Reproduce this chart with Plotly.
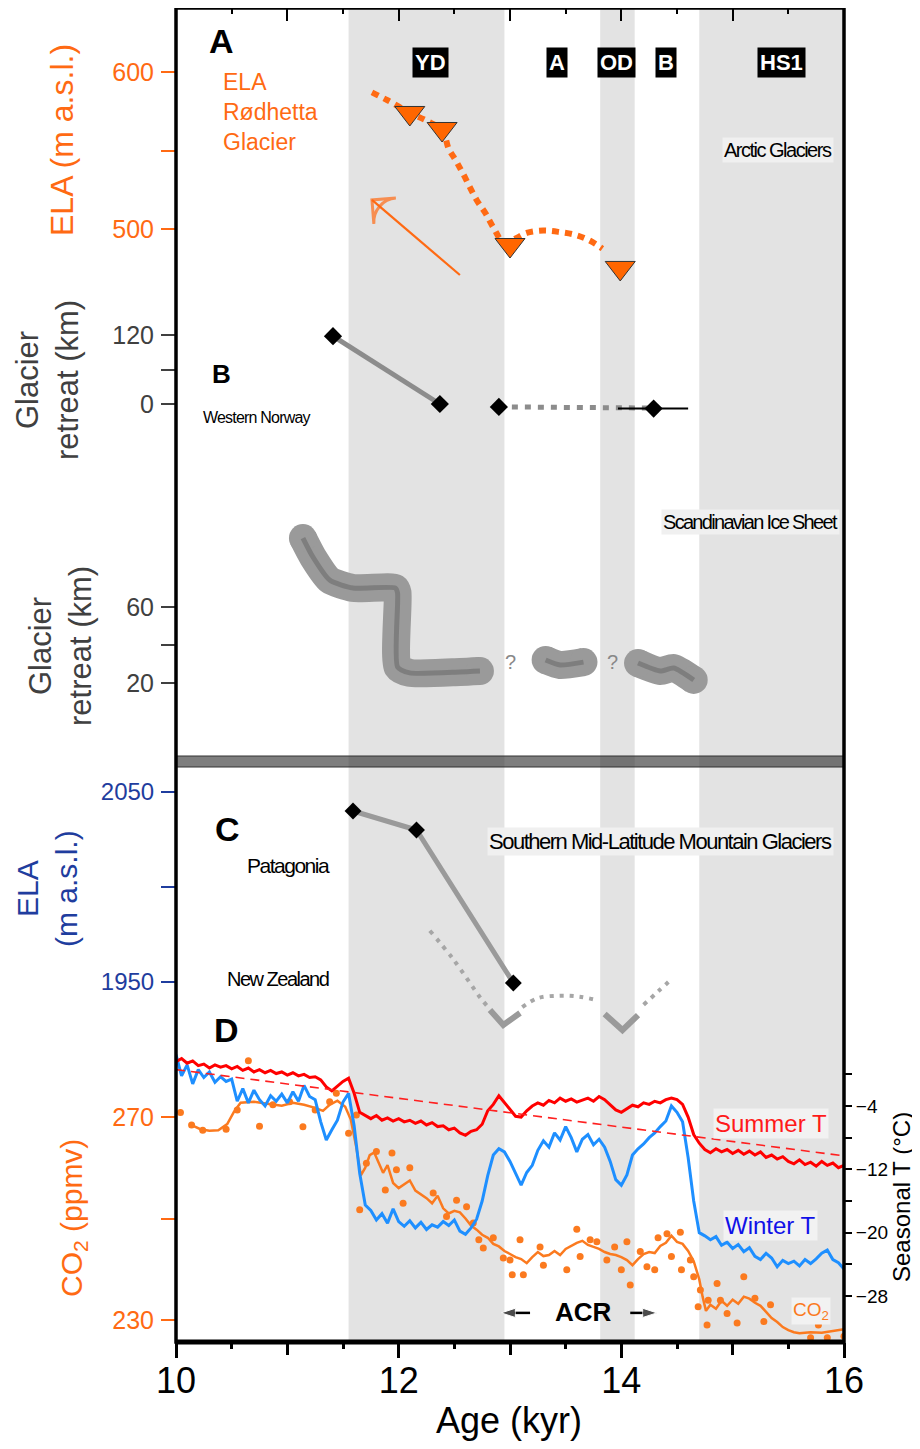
import plotly.graph_objects as go

# ------------------------------------------------------------------ data
# climate periods (kyr)
BANDS = [(11.55, 12.95), (13.81, 14.12), (14.70, 16.0)]
PERIOD_LABELS = ["YD", "A", "OD", "B", "HS1"]
PERIOD_LABEL_AGE = [12.29, 13.42, 13.96, 14.40, 15.44]

# A: ELA Rødhetta Glacier (m a.s.l.)
ELA_TRI_AGE = [12.10, 12.39, 13.00, 13.99]
ELA_TRI_VAL = [573.9, 563.7, 489.8, 475.2]
ELA_LINE_AGE = [11.76, 11.90, 12.10, 12.25, 12.39, 12.45, 12.51, 12.58, 12.70, 12.78,
                12.85, 12.95, 13.05, 13.15, 13.30, 13.45, 13.60, 13.72, 13.83]
ELA_LINE_VAL = [587, 582, 574, 569, 563, 551, 544, 535, 518.5, 510,
                501, 491, 494, 497.5, 499, 498, 496, 492.5, 487.5]
ELA_ARROW_AGE = [12.55, 11.76]
ELA_ARROW_VAL = [470.7, 518.5]

# B: Western Norway glacier retreat (km)
WN_SOLID_AGE = [11.41, 12.37]
WN_SOLID_VAL = [118, 0]
WN_DOT_AGE = [12.90, 14.25]
WN_DOT_VAL = [-5, -7]
WN_PT_AGE = [11.41, 12.37, 12.90, 14.29]
WN_PT_VAL = [118, 0, -5, -8]
WN_ERR_AGE = [13.97, 14.60]
WN_ERR_VAL = [-8, -8]

# Scandinavian Ice Sheet retreat (km) – three segments
SIS1_AGE = [11.14, 11.23, 11.38, 11.59, 11.97, 11.99, 11.99, 12.10, 12.55, 12.73]
SIS1_VAL = [96.3, 86.3, 74.2, 70.0, 70.0, 67.4, 28.4, 25.3, 25.8, 26.3]
SIS2_AGE = [13.32, 13.45, 13.66]
SIS2_VAL = [32.1, 29.5, 31.0]
SIS3_AGE = [14.15, 14.35, 14.47, 14.65]
SIS3_VAL = [30.5, 26.3, 27.9, 21.6]

# C: Southern mid-latitude ELA (m a.s.l.)
PAT_AGE = [11.59, 12.16, 13.03]
PAT_VAL = [2040, 2030, 1949.5]
NZ_LEFT_AGE = [12.28, 12.49, 12.73, 12.80]
NZ_LEFT_VAL = [1977, 1962, 1942, 1937]
NZ_V1_AGE = [12.82, 12.94, 13.09]
NZ_V1_VAL = [1935.3, 1927.4, 1933.7]
NZ_ARC_AGE = [13.11, 13.25, 13.45, 13.62, 13.78]
NZ_ARC_VAL = [1936.8, 1941.5, 1942.8, 1942.3, 1940.5]
NZ_V2_AGE = [13.85, 14.01, 14.15]
NZ_V2_VAL = [1933.2, 1924.7, 1932.6]
NZ_RIGHT_AGE = [14.20, 14.33, 14.46]
NZ_RIGHT_VAL = [1938, 1945, 1952]

# D: seasonal temperatures (°C)
T_AGE = [10.00, 10.05, 10.10, 10.15, 10.20, 10.25, 10.30, 10.35, 10.40, 10.45,
         10.50, 10.55, 10.60, 10.65, 10.70, 10.75, 10.80, 10.85, 10.90, 10.95,
         11.00, 11.05, 11.10, 11.15, 11.20, 11.25, 11.30, 11.35, 11.40, 11.45,
         11.50, 11.55, 11.60, 11.65, 11.70, 11.75, 11.80, 11.85, 11.90, 11.95,
         12.00, 12.05, 12.10, 12.15, 12.20, 12.25, 12.30, 12.35, 12.40, 12.45,
         12.50, 12.55, 12.60, 12.65, 12.70, 12.75, 12.80, 12.85, 12.90, 12.95,
         13.00, 13.05, 13.10, 13.15, 13.20, 13.25, 13.30, 13.35, 13.40, 13.45,
         13.50, 13.55, 13.60, 13.65, 13.70, 13.75, 13.80, 13.85, 13.90, 13.95,
         14.00, 14.05, 14.10, 14.15, 14.20, 14.25, 14.30, 14.35, 14.40, 14.45,
         14.50, 14.55, 14.60, 14.65, 14.70, 14.75, 14.80, 14.85, 14.90, 14.95,
         15.00, 15.05, 15.10, 15.15, 15.20, 15.25, 15.30, 15.35, 15.40, 15.45,
         15.50, 15.55, 15.60, 15.65, 15.70, 15.75, 15.80, 15.85, 15.90, 15.95,
         16.00]
SUMMER_T = [1.6, 2.0, 1.4, 1.7, 1.1, 1.3, 0.8, 1.2, 0.9, 1.1,
            0.7, 1.0, 0.5, 0.8, 0.3, 0.6, 0.2, 0.5, 0.1, 0.3,
            -0.1, 0.2, -0.2, 0.0, -0.4, -0.3, -0.7, -1.6, -2.1, -1.5,
            -0.9, -0.5, -2.4, -4.8, -5.2, -5.6, -5.2, -5.8, -5.5, -5.9,
            -5.6, -6.0, -5.8, -6.2, -5.9, -6.4, -6.1, -6.6, -6.5, -7.0,
            -6.8, -7.4, -7.7, -7.2, -7.0, -6.3, -4.6, -3.8, -2.7, -3.6,
            -4.4, -5.3, -5.4, -4.6, -4.0, -3.6, -3.9, -3.3, -3.6, -3.0,
            -3.4, -3.1, -3.5, -3.2, -3.0, -3.4, -2.8, -3.2, -3.8, -4.5,
            -4.8, -4.3, -3.9, -4.1, -3.6, -3.8, -3.4, -3.6, -3.2, -3.0,
            -3.2, -3.8, -5.4, -7.6, -8.7, -9.5, -9.9, -9.4, -9.8, -9.5,
            -10.0, -9.6, -10.1, -9.7, -10.2, -9.8, -10.5, -10.2, -10.7, -10.4,
            -11.0, -11.3, -10.8, -11.4, -11.1, -11.6, -11.0, -11.5, -11.2, -11.8,
            -11.5]
WINTER_T = [2.5, -0.2, 1.2, -1.2, 0.6, -0.4, 0.3, -1.0, -0.3, -0.9,
            -0.6, -3.4, -1.8, -3.6, -2.0, -3.2, -4.0, -2.7, -3.4, -2.5,
            -3.6, -2.2, -3.4, -1.4, -2.8, -3.2, -6.0, -8.3, -7.0, -5.8,
            -3.5, -2.4, -6.5, -12.5, -16.5, -17.2, -18.4, -17.6, -18.8, -17.0,
            -18.6, -19.2, -18.5, -19.4, -18.7, -19.6, -19.0, -19.3, -18.6, -19.1,
            -18.4, -19.8, -20.2, -19.4, -18.3, -16.0, -12.8, -10.2, -9.4, -9.8,
            -11.0, -12.6, -14.0, -12.4, -11.5, -9.6, -8.4, -9.2, -7.4, -8.3,
            -6.6, -8.0, -9.8, -8.2, -7.6, -8.9, -8.2, -9.2, -11.0, -13.3,
            -14.0, -12.7, -10.2, -9.4, -8.8, -8.0, -7.4, -6.6, -5.9, -4.0,
            -4.8, -6.0, -10.5, -16.0, -20.0, -20.4, -20.9, -20.5, -21.6, -21.2,
            -22.0, -21.5, -22.4, -21.9, -23.0, -23.4, -22.6, -23.2, -24.3, -23.5,
            -23.9, -23.6, -24.2, -23.4, -23.9, -23.3, -22.6, -22.2, -23.4, -23.8,
            -24.6]
TREND_AGE = [10.0, 16.0]
TREND_T = [0.6, -10.3]

# D: CO2 (ppmv)
CO2_LINE_AGE = [10.14, 10.22, 10.30, 10.38, 10.46, 10.52, 10.58, 10.70, 10.82, 10.95,
                11.05, 11.15, 11.25, 11.32, 11.38, 11.45, 11.52, 11.57, 11.62, 11.66,
                11.70, 11.74, 11.78, 11.82, 11.86, 11.90, 11.95, 12.00, 12.05, 12.10,
                12.15, 12.20, 12.25, 12.30, 12.35, 12.40, 12.45, 12.50, 12.55, 12.60,
                12.65, 12.70, 12.75, 12.80, 12.85, 12.90, 12.95, 13.00, 13.05, 13.10,
                13.15, 13.20, 13.25, 13.30, 13.35, 13.40, 13.45, 13.50, 13.55, 13.60,
                13.65, 13.70, 13.75, 13.80, 13.85, 13.90, 13.95, 14.00, 14.05, 14.10,
                14.15, 14.20, 14.25, 14.30, 14.35, 14.40, 14.45, 14.50, 14.55, 14.60,
                14.65, 14.70, 14.73, 14.76, 14.80, 14.85, 14.90, 14.95, 15.00, 15.05,
                15.10, 15.15, 15.20, 15.25, 15.30, 15.35, 15.40, 15.45, 15.50, 15.55,
                15.60, 15.70, 15.80, 15.90, 16.00]
CO2_LINE_VAL = [268.4, 267.6, 267.3, 267.4, 268.6, 271.0, 272.8, 273.0, 272.6, 272.2,
                272.8, 272.4, 271.8, 271.2, 272.4, 273.2, 272.0, 269.5, 264.0, 258.5,
                260.0, 262.5, 263.0, 261.0, 259.0, 260.5, 257.0, 256.0, 256.8, 257.5,
                255.5, 254.8, 254.0, 253.0, 254.5, 252.0, 251.0, 251.5, 251.2, 250.0,
                248.6, 247.8, 246.8, 246.2, 245.0, 244.5, 243.6, 243.0, 242.4, 242.0,
                241.2, 242.4, 243.4, 242.6, 242.8, 243.6, 242.8, 244.0, 244.6, 245.2,
                245.6, 244.8, 244.4, 244.0, 243.4, 243.0, 242.8, 242.4, 241.8, 240.8,
                242.0, 243.0, 243.4, 243.2, 244.6, 245.2, 246.6, 245.4, 245.0, 243.6,
                241.6, 238.0, 234.6, 231.8, 233.0, 232.2, 233.8, 232.8, 234.0, 233.2,
                234.6, 234.2, 233.4, 232.8, 231.6, 230.4, 229.6, 228.6, 228.0, 227.6,
                227.4, 227.6, 227.5, 227.8, 228.2]
CO2_DOT_AGE = [10.04, 10.14, 10.24, 10.45, 10.55, 10.65, 10.75, 10.87, 11.02, 11.14,
               11.25, 11.38, 11.44, 11.55, 11.62, 11.65, 11.71, 11.80, 11.88, 11.94,
               11.98, 12.04, 12.10, 12.31, 12.43, 12.52, 12.61, 12.67, 12.72, 12.76,
               12.85, 12.94, 13.00, 13.02, 13.09, 13.12, 13.27, 13.30, 13.51, 13.60,
               13.63, 13.72, 13.78, 13.87, 13.94, 14.00, 14.05, 14.08, 14.17, 14.23,
               14.30, 14.33, 14.41, 14.45, 14.53, 14.54, 14.62, 14.65, 14.69, 14.71,
               14.77, 14.78, 14.86, 14.89, 14.95, 15.04, 15.10, 15.20, 15.28, 15.34,
               15.70, 15.77, 15.85, 16.00]
CO2_DOT_VAL = [270.9, 268.4, 267.4, 267.6, 271.4, 281.1, 268.2, 272.4, 273.0, 268.1,
               271.4, 273.0, 274.7, 266.8, 270.4, 251.7, 260.9, 263.2, 255.6, 262.9,
               259.6, 253.0, 260.0, 255.0, 250.4, 253.6, 252.3, 249.1, 245.8, 244.2,
               246.2, 242.2, 241.8, 238.9, 245.8, 238.9, 244.4, 240.8, 239.9, 247.9,
               242.5, 245.8, 245.4, 241.8, 244.4, 239.9, 245.4, 236.9, 243.5, 240.5,
               239.9, 246.2, 247.0, 242.5, 247.3, 239.9, 241.8, 238.5, 232.6, 235.9,
               229.0, 233.9, 237.2, 233.9, 231.3, 229.4, 238.5, 234.3, 229.7, 233.0,
               226.5, 229.0, 226.5, 226.8]
# ACR arrows (drawn on the CO2 axis): tail -> head
ACR_LEFT_AGE = [13.18, 12.92]
ACR_RIGHT_AGE = [14.08, 14.32]
ACR_ARROW_VAL = [231.4, 231.4]

# axis ticks
X_LABEL_TICKS = [10, 12, 14, 16]
X_UNLABELLED = [11, 13, 15]
X_HALF = [10.5, 11.5, 12.5, 13.5, 14.5, 15.5]
X_TOP = [11, 12, 13, 14, 15]

# ------------------------------------------------------------------ layout helpers
# page has an 8px body margin; all pixel numbers below are page pixels
OFF = 8
PAGE_W, PAGE_H = 920, 1449
PL, PR, PT, PB = 176, 844, 8, 1342          # plot area in page pixels
FIG_W, FIG_H = PAGE_W - OFF, PAGE_H - OFF
ML, MT = PL - OFF, PT - OFF
MR, MB = FIG_W + OFF - PR, FIG_H + OFF - PB
PW, PH = PR - PL, PB - PT


def py(p):
    return (PB - p) / PH


def px(p):
    return (p - PL) / PW


def yrange(v1, p1, v2, p2):
    s = (p2 - p1) / (v2 - v1)
    return [v1 + (PB - p1) / s, v1 + (PT - p1) / s]


SANS = "Liberation Sans, Arial, sans-serif"
ORANGE = "#ff6a13"
CO2C = "#fb7a1f"
GREYT = "#404040"
NAVY = "#1f3d9e"
BANDC = "#e3e3e3"


def narrow(t, ls=-1.5):
    return '<span style="letter-spacing:%.1fpx">%s</span>' % (ls, t)


fig = go.Figure()

for a0, a1 in BANDS:
    fig.add_shape(type="rect", xref="x", yref="paper", x0=a0, x1=a1, y0=0, y1=1,
                  fillcolor=BANDC, line_width=0, layer="below")

# ---- A
fig.add_trace(go.Scatter(x=ELA_LINE_AGE, y=ELA_LINE_VAL, mode="lines", yaxis="y",
                         line=dict(color=ORANGE, width=6, dash="7px,6px", shape="spline")))
fig.add_trace(go.Scatter(x=ELA_TRI_AGE, y=ELA_TRI_VAL, mode="markers", yaxis="y",
                         marker=dict(symbol="triangle-down", size=26, color="#ff6600",
                                     line=dict(color="#333333", width=1))))
fig.add_trace(go.Scatter(x=ELA_ARROW_AGE, y=ELA_ARROW_VAL, mode="lines+markers", yaxis="y",
                         line=dict(color=ORANGE, width=2.2),
                         marker=dict(symbol="arrow-wide-open", size=[0, 24], angleref="previous",
                                     color=ORANGE, line=dict(color=ORANGE, width=3))))
# ---- B
fig.add_trace(go.Scatter(x=WN_SOLID_AGE, y=WN_SOLID_VAL, mode="lines", yaxis="y2",
                         line=dict(color="#8c8c8c", width=5)))
fig.add_trace(go.Scatter(x=WN_DOT_AGE, y=WN_DOT_VAL, mode="lines", yaxis="y2",
                         line=dict(color="#8c8c8c", width=5, dash="6px,7px")))
fig.add_trace(go.Scatter(x=WN_ERR_AGE, y=WN_ERR_VAL, mode="lines", yaxis="y2",
                         line=dict(color="black", width=2)))
fig.add_trace(go.Scatter(x=WN_PT_AGE, y=WN_PT_VAL, mode="markers", yaxis="y2",
                         marker=dict(symbol="diamond", size=14, color="black")))
# ---- SIS
for ages, vals in [(SIS1_AGE, SIS1_VAL), (SIS2_AGE, SIS2_VAL), (SIS3_AGE, SIS3_VAL)]:
    fig.add_trace(go.Scatter(x=ages, y=vals, mode="lines", yaxis="y3",
                             line=dict(color="#9a9a9a", width=28, shape="spline", smoothing=0.6)))
    fig.add_trace(go.Scatter(x=[ages[0], ages[-1]], y=[vals[0], vals[-1]], mode="markers", yaxis="y3",
                             marker=dict(size=28, color="#9a9a9a")))
    fig.add_trace(go.Scatter(x=ages, y=vals, mode="lines", yaxis="y3",
                             line=dict(color="#7e7e7e", width=5, shape="spline", smoothing=0.6)))
# ---- C
for ages, vals in [(NZ_LEFT_AGE, NZ_LEFT_VAL), (NZ_ARC_AGE, NZ_ARC_VAL), (NZ_RIGHT_AGE, NZ_RIGHT_VAL)]:
    fig.add_trace(go.Scatter(x=ages, y=vals, mode="lines", yaxis="y4",
                             line=dict(color="#a6a6a6", width=4, dash="4px,6px", shape="spline")))
for ages, vals in [(NZ_V1_AGE, NZ_V1_VAL), (NZ_V2_AGE, NZ_V2_VAL)]:
    fig.add_trace(go.Scatter(x=ages, y=vals, mode="lines", yaxis="y4",
                             line=dict(color="#9a9a9a", width=6)))
fig.add_trace(go.Scatter(x=PAT_AGE, y=PAT_VAL, mode="lines+markers", yaxis="y4",
                         line=dict(color="#9a9a9a", width=5),
                         marker=dict(symbol="diamond", size=13, color="black")))
# ---- D
fig.add_trace(go.Scatter(x=CO2_DOT_AGE, y=CO2_DOT_VAL, mode="markers", yaxis="y5",
                         marker=dict(size=7, color=CO2C)))
fig.add_trace(go.Scatter(x=CO2_LINE_AGE, y=CO2_LINE_VAL, mode="lines", yaxis="y5",
                         line=dict(color=CO2C, width=2.5)))
fig.add_trace(go.Scatter(x=T_AGE, y=WINTER_T, mode="lines", yaxis="y6",
                         line=dict(color="#1e8fff", width=3)))
fig.add_trace(go.Scatter(x=T_AGE, y=SUMMER_T, mode="lines", yaxis="y6",
                         line=dict(color="#ff0000", width=3)))
fig.add_trace(go.Scatter(x=TREND_AGE, y=TREND_T, mode="lines", yaxis="y6",
                         line=dict(color="#ff2020", width=1.6, dash="9px,6px")))
for ages in (ACR_LEFT_AGE, ACR_RIGHT_AGE):
    fig.add_trace(go.Scatter(x=ages, y=ACR_ARROW_VAL, mode="lines+markers", yaxis="y5",
                             line=dict(color="black", width=2.5),
                             marker=dict(symbol="arrow", size=[0, 15], angleref="previous",
                                         color="black")))
# carrier traces for the extra tick axes
fig.add_trace(go.Scatter(x=[10, 16], y=[None, None], xaxis="x2", yaxis="y", mode="lines"))
fig.add_trace(go.Scatter(x=[10, 16], y=[None, None], xaxis="x3", yaxis="y", mode="lines"))

# divider + frame
fig.add_shape(type="rect", xref="paper", yref="paper", x0=0, x1=1, y0=py(767), y1=py(756),
              fillcolor="rgba(40,40,40,0.6)", line=dict(color="#333333", width=1), layer="above")
fig.add_shape(type="rect", xref="paper", yref="paper", x0=0, x1=1, y0=0, y1=1,
              line=dict(color="black", width=3.5), layer="above")
fig.add_shape(type="line", xref="paper", yref="paper", x0=0, x1=1, y0=0, y1=0,
              line=dict(color="black", width=5), layer="above")

ann = []


def A(**kw):
    d = dict(showarrow=False, xanchor="center", yanchor="middle",
             font=dict(family=SANS, size=22, color="black"))
    f = kw.pop("font", {})
    d["font"] = dict(d["font"], **f)
    d.update(kw)
    ann.append(d)


for lab, age in zip(PERIOD_LABELS, PERIOD_LABEL_AGE):
    A(text="<b>%s</b>" % lab, x=age, xref="x", y=py(63), yref="paper", bgcolor="black",
      borderpad=2, font=dict(color="white", size=22))

# panel letters
A(text="<b>A</b>", x=10.41, xref="x", y=py(41), yref="paper", font=dict(size=34))
A(text="<b>B</b>", x=10.41, xref="x", y=py(374), yref="paper", font=dict(size=26))
A(text="<b>C</b>", x=10.46, xref="x", y=py(829), yref="paper", font=dict(size=34))
A(text="<b>D</b>", x=10.45, xref="x", y=py(1030), yref="paper", font=dict(size=34))

A(text="ELA<br>Rødhetta<br>Glacier", x=10.40, xref="x", xanchor="left", align="left",
  y=py(112), yref="paper", font=dict(color=ORANGE, size=23))
A(text=narrow("Arctic Glaciers"), x=15.41, xref="x", y=py(150), yref="paper", bgcolor="#f0f0f0",
  font=dict(size=20))
A(text=narrow("Western Norway", -0.8), x=10.73, xref="x", y=py(417), yref="paper", font=dict(size=16))
A(text=narrow("Scandinavian Ice Sheet", -1.7), x=15.16, xref="x", y=py(522), yref="paper",
  bgcolor="#f0f0f0", font=dict(size=20))
A(text="?", x=13.0, xref="x", y=py(662), yref="paper", font=dict(color="#888888", size=20))
A(text="?", x=13.92, xref="x", y=py(662), yref="paper", font=dict(color="#888888", size=20))
A(text=narrow("Southern Mid-Latitude Mountain Glaciers"), x=14.35, xref="x", y=py(841),
  yref="paper", bgcolor="#f0f0f0", font=dict(size=22))
A(text=narrow("Patagonia"), x=11.01, xref="x", y=py(865), yref="paper", font=dict(size=21))
A(text=narrow("New Zealand"), x=10.92, xref="x", y=py(979), yref="paper", font=dict(size=20))
A(text="Summer T", x=15.34, xref="x", y=py(1123), yref="paper", bgcolor="#f2f2f2",
  font=dict(color="#ff1a1a", size=24))
A(text="Winter T", x=15.34, xref="x", y=py(1225), yref="paper", bgcolor="#f2f2f2",
  font=dict(color="#1010e8", size=24))
A(text="CO<sub>2</sub>", x=15.70, xref="x", y=py(1311), yref="paper", bgcolor="#f2f2f2",
  font=dict(color=CO2C, size=19))
A(text="<b>ACR</b>", x=13.66, xref="x", y=py(1312), yref="paper", font=dict(size=26))

# axis titles
A(text="ELA (m a.s.l.)", x=px(62), xref="paper", y=py(140), yref="paper", textangle=-90,
  font=dict(color=ORANGE, size=32))
A(text="Glacier<br>retreat (km)", x=px(48), xref="paper", y=py(380), yref="paper", textangle=-90,
  font=dict(color=GREYT, size=31))
A(text="Glacier<br>retreat (km)", x=px(60), xref="paper", y=py(646), yref="paper", textangle=-90,
  font=dict(color=GREYT, size=31))
A(text="ELA<br>(m a.s.l.)", x=px(47), xref="paper", y=py(889), yref="paper", textangle=-90,
  font=dict(color=NAVY, size=30))
A(text="CO<sub>2</sub> (ppmv)", x=px(73), xref="paper", y=py(1218), yref="paper", textangle=-90,
  font=dict(color=ORANGE, size=30))
A(text="Seasonal T (°C)", x=px(901), xref="paper", y=py(1197), yref="paper", textangle=-90,
  font=dict(color="black", size=24))
A(text="Age (kyr)", x=12.99, xref="x", y=py(1420), yref="paper", font=dict(size=36))


def yax(rng, tv, minor_v, color, side="left", ticklen=14, size=25, standoff=2, **kw):
    d = dict(range=rng, tickmode="array", tickvals=tv, ticks="outside",
             ticklen=ticklen, tickwidth=2, tickcolor=color,
             tickfont=dict(color=color, size=size, family=SANS), showgrid=False,
             zeroline=False, showline=False, side=side, anchor="x",
             ticklabelstandoff=standoff,
             minor=dict(tickmode="array", tickvals=minor_v, ticks="outside", ticklen=ticklen,
                        tickwidth=2, tickcolor=color, showgrid=False))
    d.update(kw)
    return d


NOAX = dict(showgrid=False, zeroline=False, showline=False)

fig.update_layout(
    width=FIG_W, height=FIG_H, margin=dict(l=ML, r=MR, t=MT, b=MB),
    plot_bgcolor="white", paper_bgcolor="white", showlegend=False,
    font=dict(family=SANS),
    xaxis=dict(range=[10, 16], tickmode="array", tickvals=X_LABEL_TICKS,
               ticks="outside", ticklen=15, tickwidth=2.5, tickcolor="black",
               tickfont=dict(size=36, color="black", family=SANS), ticklabelstandoff=-8,
               minor=dict(tickmode="array", tickvals=X_HALF, ticks="outside", ticklen=6,
                          tickwidth=2.5, tickcolor="black", showgrid=False), **NOAX),
    xaxis3=dict(range=[10, 16], overlaying="x", side="bottom", anchor="y", tickmode="array",
                tickvals=X_UNLABELLED, ticks="outside", ticklen=12, tickwidth=2.5,
                tickcolor="black", showticklabels=False, **NOAX),
    xaxis2=dict(range=[10, 16], overlaying="x", side="top", anchor="y", tickmode="array",
                tickvals=X_TOP, ticks="inside", ticklen=13, tickwidth=2,
                tickcolor="black", showticklabels=False,
                minor=dict(tickmode="array", tickvals=X_HALF, ticks="inside", ticklen=6,
                           tickwidth=2, tickcolor="black", showgrid=False), **NOAX),
    yaxis=yax(yrange(600, 72, 500, 229), [500, 600], [550], ORANGE),
    yaxis2=yax(yrange(120, 335, 0, 404), [0, 120], [60], GREYT, overlaying="y"),
    yaxis3=yax(yrange(60, 607, 20, 683), [20, 60], [40], GREYT, overlaying="y"),
    yaxis4=yax(yrange(2050, 792, 1950, 982), [1950, 2050], [2000], NAVY,
               overlaying="y", size=24),
    yaxis5=yax(yrange(270, 1117, 230, 1320), [230, 270], [250], ORANGE, overlaying="y"),
    yaxis6=yax(yrange(-4, 1106, -28, 1296), [-4, -12, -20, -28], [0, -8, -16, -24], "black",
               side="right", ticklen=7, size=19, standoff=0, overlaying="y"),
    annotations=ann,
)

fig.write_html("out.html")
